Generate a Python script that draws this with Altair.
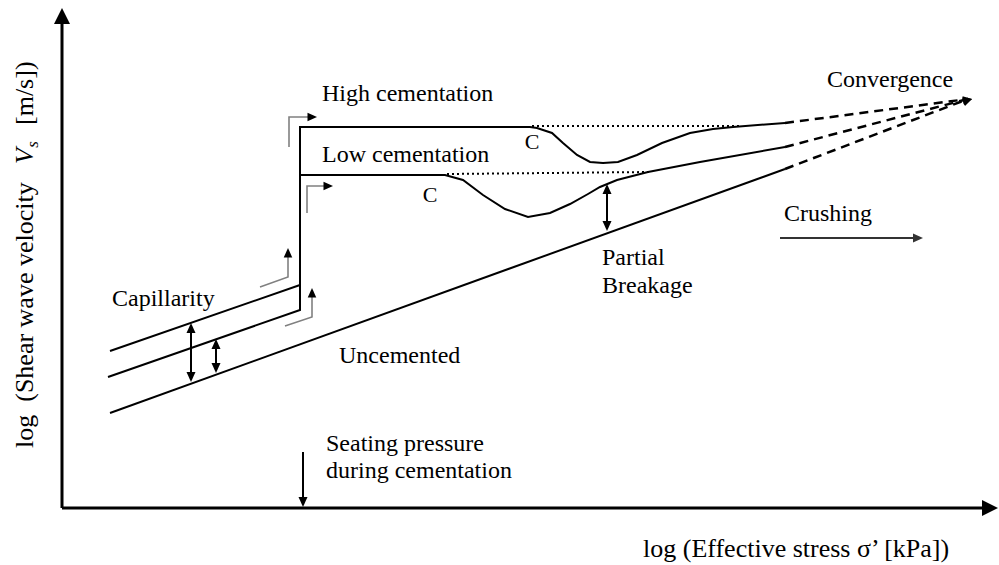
import math
import altair as alt
import pandas as pd

# ---------------- schematic values ----------------
# x: position along log(effective stress); y: distance from the top (reversed scale)

# axes
yaxis_x = [62, 62]
yaxis_y = [508, 16]
xaxis_x = [62, 990]
xaxis_y = [508, 508]

# high cementation path (capillarity branch -> jump -> plateau -> debonding dip -> recovery)
high_x = [110, 300, 300, 530, 537, 552, 563, 577, 590, 603, 618, 637, 662, 690, 713, 733, 785]
high_y = [351, 285, 127, 127, 128, 133, 143, 155, 162, 163, 162, 155, 143, 133, 129, 127, 123]

# low cementation path
low_x = [108, 300, 300, 445, 463, 483, 505, 528, 550, 570, 588, 600, 617, 648, 700, 785]
low_y = [377, 310, 175, 175, 180, 195, 209, 217, 213, 204, 194, 187, 180, 172, 162, 147]

# uncemented line
unc_x = [110, 785]
unc_y = [413, 169]

# dashed extrapolations to the convergence point
conv_point = (972, 99)
dash_start_y = [123, 147, 169]
dash_start_x = [785, 785, 785]

# dotted (no-debonding) continuations
dot_hi_x = [532, 740]
dot_hi_y = [126, 126]
dot_lo_x = [447, 650]
dot_lo_y = [174, 172]

# double-headed arrows (x, y_top, y_bottom)
dbl_x = [191, 216, 607]
dbl_top = [323, 339, 184]
dbl_bot = [382, 373, 231]

# seating pressure arrow and crushing arrow
seat_x = [303, 303]
seat_y = [452, 507]
crush_x = [780, 923]
crush_y = [238, 238]

# grey bent arrows (path points; last point is the arrow tip)
bentA_x = [289, 289, 317]
bentA_y = [147, 117, 117]
bentB_x = [307, 307, 333]
bentB_y = [213, 186, 186]
bentC_x = [260, 288, 288]
bentC_y = [287, 277, 248]
bentD_x = [285, 312, 312]
bentD_y = [326, 317, 288]

# annotation texts (left aligned, alphabetic baseline)
ann_text = ["High cementation", "Low cementation", "Convergence", "Crushing",
            "Partial", "Breakage", "Capillarity", "Uncemented",
            "Seating pressure", "during cementation"]
ann_x = [322, 322, 827, 784, 602, 602, 112, 339, 326, 326]
ann_y = [101, 162, 87, 221, 265, 293, 306, 363, 451, 478]

c_text = ["C", "C"]
c_x = [430, 532]
c_y = [202, 149]

xlabel_text = ["log (Effective stress \u03c3\u2019 [kPa])"]
xlabel_x = [643]
xlabel_y = [557]

ylab_main = ["log\u00a0\u00a0(Shear wave velocity"]
ylab_main_pos = (33, 448)
ylab_V = ["V"]
ylab_V_pos = (33, 156)
ylab_s = ["s"]
ylab_s_pos = (38, 144.5)
ylab_unit = ["[m/s])"]
ylab_unit_pos = (33, 125)

FONT = "Liberation Serif"

# ---------------- build tables ----------------
def path_df(name, xs, ys):
    return pd.DataFrame({"id": name, "x": xs, "y": ys, "o": range(len(xs))})

axes_df = pd.concat([path_df("ya", yaxis_x, yaxis_y), path_df("xa", xaxis_x, xaxis_y)])
solid_df = pd.concat([path_df("high", high_x, high_y), path_df("low", low_x, low_y),
                      path_df("unc", unc_x, unc_y)])
dash_df = pd.concat([path_df(f"d{i}", [sx, conv_point[0] - 4], [sy, conv_point[1]])
                     for i, (sx, sy) in enumerate(zip(dash_start_x, dash_start_y))])
dot_df = pd.concat([path_df("dh", dot_hi_x, dot_hi_y), path_df("dl", dot_lo_x, dot_lo_y)])

shaft_rows = []
for i, (x, t, b) in enumerate(zip(dbl_x, dbl_top, dbl_bot)):
    shaft_rows.append(path_df(f"db{i}", [x, x], [t + 5, b - 5]))
shaft_rows.append(path_df("seat", seat_x, [seat_y[0], seat_y[1] - 5]))
shafts_df = pd.concat(shaft_rows)
crush_df = path_df("crush", [crush_x[0], crush_x[1] - 5], crush_y)

bent_df = pd.concat([
    path_df("bA", bentA_x[:-1] + [bentA_x[-1] - 6], bentA_y),
    path_df("bB", bentB_x[:-1] + [bentB_x[-1] - 6], bentB_y),
    path_df("bC", bentC_x, bentC_y[:-1] + [bentC_y[-1] + 6]),
    path_df("bD", bentD_x, bentD_y[:-1] + [bentD_y[-1] + 6]),
])

def ang(x0, y0, x1, y1):
    return math.degrees(math.atan2(y1 - y0, x1 - x0)) % 360

heads = []
for x, t, b in zip(dbl_x, dbl_top, dbl_bot):
    heads.append((x, t, 270, 100, "black"))
    heads.append((x, b, 90, 100, "black"))
heads.append((seat_x[1], seat_y[1], 90, 100, "black"))
heads.append((crush_x[1], crush_y[1], 0, 100, "#333333"))
for bx, by in [(bentA_x, bentA_y), (bentB_x, bentB_y), (bentC_x, bentC_y), (bentD_x, bentD_y)]:
    heads.append((bx[-1], by[-1], ang(bx[-2], by[-2], bx[-1], by[-1]), 90, "black"))
for sx, sy in zip(dash_start_x, dash_start_y):
    heads.append((conv_point[0], conv_point[1], ang(sx, sy, *conv_point), 81, "black"))
heads_df = pd.DataFrame(heads, columns=["x", "y", "angle", "size", "color"])

axis_heads_df = pd.DataFrame({
    "x": [yaxis_x[1], xaxis_x[1] + 8],
    "y": [yaxis_y[1] - 8, xaxis_y[1]],
    "angle": [270, 0],
})

ann_df = pd.DataFrame({"t": ann_text, "x": ann_x, "y": ann_y})
c_df = pd.DataFrame({"t": c_text, "x": c_x, "y": c_y})
xl_df = pd.DataFrame({"t": xlabel_text, "x": xlabel_x, "y": xlabel_y})

def one(t, pos):
    return pd.DataFrame({"t": t, "x": [pos[0]], "y": [pos[1]]})

# ---------------- encodings ----------------
X = alt.X("x:Q", scale=alt.Scale(domain=[0, 999], nice=False, zero=False), axis=None)
Y = alt.Y("y:Q", scale=alt.Scale(domain=[0, 565], reverse=True, nice=False, zero=False), axis=None)

def lines(df, **mk):
    return alt.Chart(df).mark_line(**mk).encode(x=X, y=Y, detail="id:N", order="o:Q")

HEAD = "M0,0L-2,-0.9L-2,0.9Z"
AXHEAD = "M0,0L-2,-1L-2,1Z"

layers = [
    lines(axes_df, color="black", strokeWidth=3),
    lines(solid_df, color="black", strokeWidth=2),
    lines(dash_df, color="black", strokeWidth=2.5, strokeDash=[9, 6]),
    lines(dot_df, color="black", strokeWidth=2, strokeDash=[2, 3]),
    lines(shafts_df, color="black", strokeWidth=2),
    lines(crush_df, color="#333333", strokeWidth=2),
    lines(bent_df, color="#808080", strokeWidth=1.6),
    alt.Chart(heads_df).mark_point(shape=HEAD, filled=True, opacity=1, strokeWidth=0).encode(
        x=X, y=Y,
        angle=alt.Angle("angle:Q", scale=None),
        size=alt.Size("size:Q", scale=None),
        color=alt.Color("color:N", scale=None),
    ),
    alt.Chart(axis_heads_df).mark_point(shape=AXHEAD, filled=True, opacity=1, strokeWidth=0,
                                        color="black", size=256).encode(
        x=X, y=Y, angle=alt.Angle("angle:Q", scale=None)),
    alt.Chart(ann_df).mark_text(font=FONT, fontSize=24, align="left", baseline="alphabetic",
                                color="black").encode(x=X, y=Y, text="t:N"),
    alt.Chart(c_df).mark_text(font=FONT, fontSize=22, align="center", baseline="alphabetic",
                              color="black").encode(x=X, y=Y, text="t:N"),
    alt.Chart(xl_df).mark_text(font=FONT, fontSize=26, align="left", baseline="alphabetic",
                               color="black").encode(x=X, y=Y, text="t:N"),
    alt.Chart(one(ylab_main, ylab_main_pos)).mark_text(
        font=FONT, fontSize=26, align="left", baseline="alphabetic", angle=270,
        color="black").encode(x=X, y=Y, text="t:N"),
    alt.Chart(one(ylab_V, ylab_V_pos)).mark_text(
        font=FONT, fontSize=26, fontStyle="italic", align="center", baseline="alphabetic",
        angle=270, color="black").encode(x=X, y=Y, text="t:N"),
    alt.Chart(one(ylab_s, ylab_s_pos)).mark_text(
        font=FONT, fontSize=17, fontStyle="italic", align="center", baseline="alphabetic",
        angle=270, color="black").encode(x=X, y=Y, text="t:N"),
    alt.Chart(one(ylab_unit, ylab_unit_pos)).mark_text(
        font=FONT, fontSize=26, align="left", baseline="alphabetic", angle=270,
        color="black").encode(x=X, y=Y, text="t:N"),
]

chart = alt.layer(*layers).properties(
    width=999, height=565, padding=0, autosize=alt.AutoSizeParams(type="none"),
    background="white",
).configure_view(stroke=None)

chart.save("out.html", embed_options={"renderer": "svg", "actions": False})
